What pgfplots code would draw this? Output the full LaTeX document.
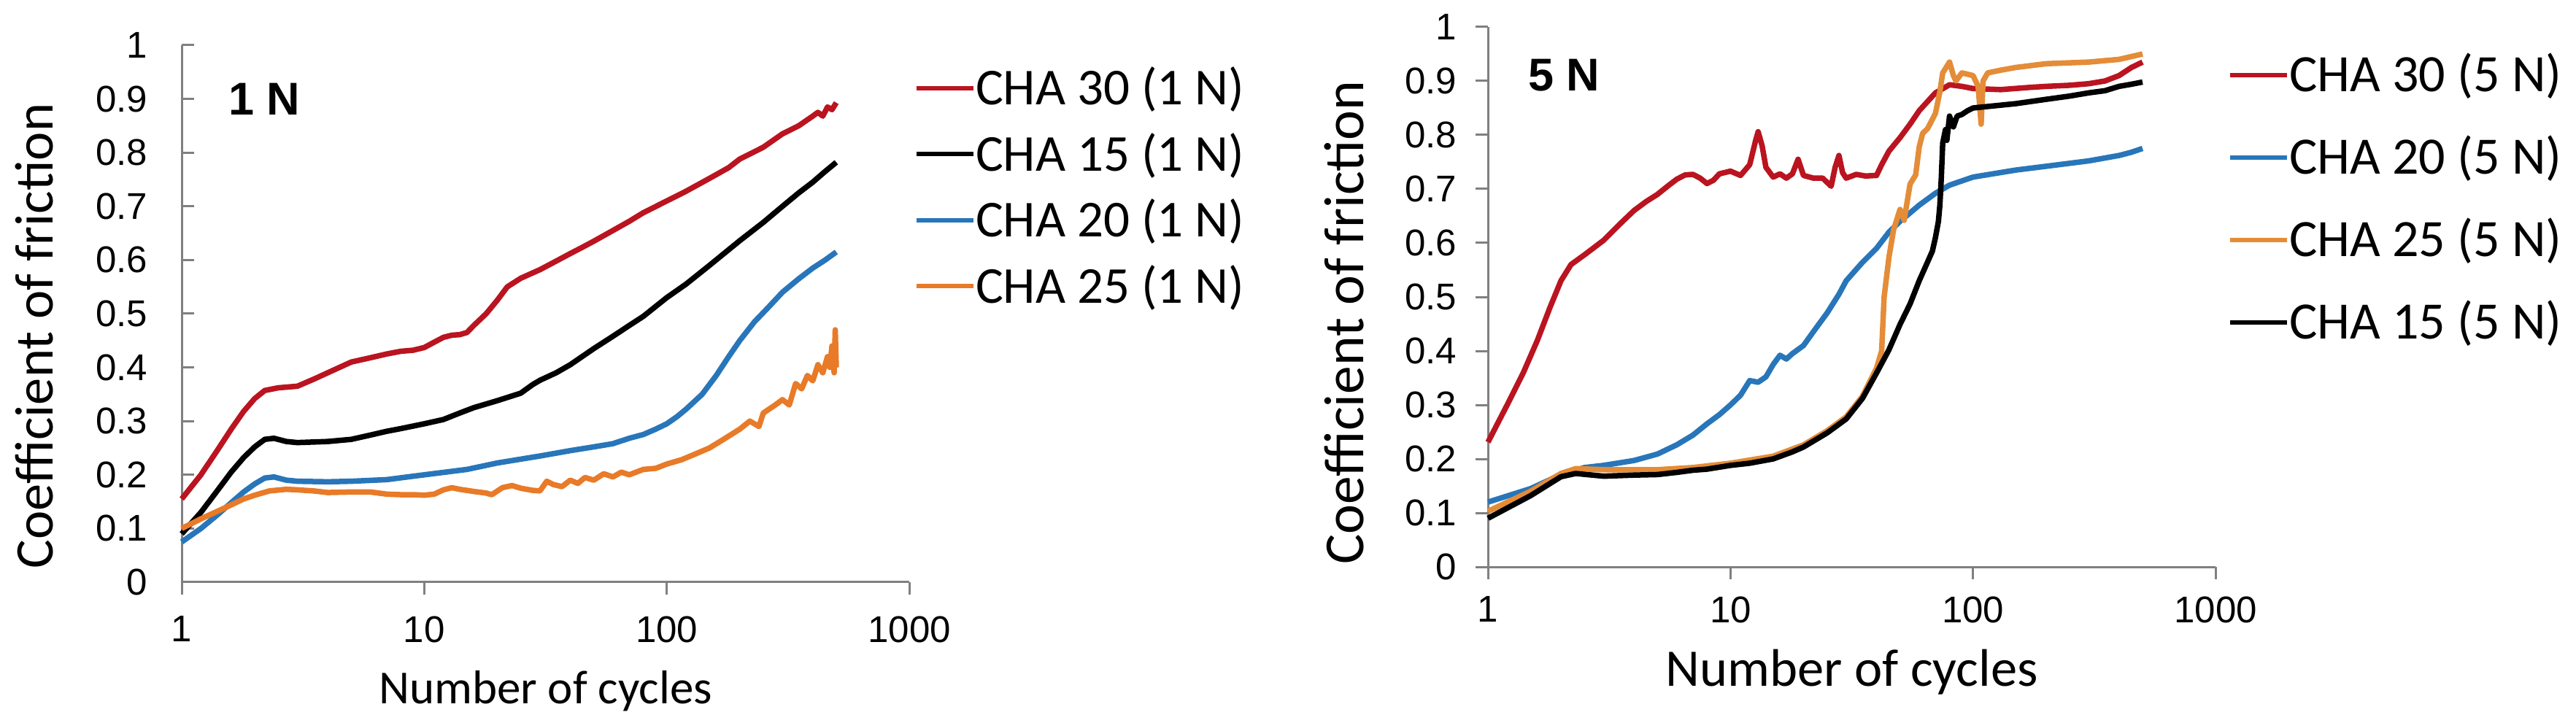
\documentclass[border=0pt]{standalone}
\usepackage{pgfplots}
\pgfplotsset{compat=1.18}
\usepackage{fontspec}
\setmainfont{Carlito}
\newfontfamily\arial{Liberation Sans}
\definecolor{cred}{RGB}{186,20,32}
\definecolor{cblue}{RGB}{40,118,185}
\definecolor{corangeA}{RGB}{232,122,40}
\definecolor{corangeB}{RGB}{228,140,55}
\pgfplotsset{
  myax/.style={
    scale only axis, width=199.4pt,
    xmin=1, xmax=1000, ymin=0, ymax=1,
    axis x line*=bottom, axis y line*=left,
    axis line style={gray, line width=0.6pt},
    xtick={1,10,100,1000}, xticklabels={1,10,100,1000},
    ytick={0,0.1,0.2,0.3,0.4,0.5,0.6,0.7,0.8,0.9,1},
    yticklabels={0,0.1,0.2,0.3,0.4,0.5,0.6,0.7,0.8,0.9,1},
    xminorticks=false, yminorticks=false,
    tick align=outside, major tick length=3.4pt,
    tick style={gray, line width=0.6pt},
    tick label style={font=\arial\fontsize{10.2}{12}\selectfont},
    /pgf/number format/assume math mode=true,
    clip=false,
    legend cell align=left,
    legend image code/.code={\draw[##1, line width=1.2pt] (0pt,0pt) -- (15.6pt,0pt);},
    every axis plot/.append style={line width=1.5pt, line join=round},
  }
}
\begin{document}
\begin{tikzpicture}
\useasboundingbox (0,0) rectangle (706pt,198pt);
% ---------------- left panel: 1 N ----------------
\begin{semilogxaxis}[myax,
  at={(49.8pt,38.4pt)}, anchor=south west, height=147.2pt,
  y tick style={xshift=3.4pt},
  yticklabel style={inner sep=0pt, anchor=east, xshift=-5.8pt},
  xticklabel style={inner sep=0pt, anchor=north, yshift=-5.7pt},
  every axis y label/.style={at={(axis description cs:-0.1775,0.4586)}, rotate=90, anchor=base, font=\fontsize{14.9}{16}\selectfont},
  every axis x label/.style={at={(axis description cs:0.5,-0.2269)}, anchor=base, font=\fontsize{13}{15}\selectfont},
  ylabel={Coefficient of friction}, xlabel={Number of cycles},
  legend style={draw=none, fill=none, inner sep=0pt, at={(1.006,0.9524)}, anchor=north west,
    row sep=9pt, font=\fontsize{14.2}{14.2}\selectfont,
    nodes={inner sep=0pt, text height=9.1pt, text depth=0pt},
    /tikz/every even column/.append style={column sep=1.6pt}},
]
\addplot[cred] coordinates {(1,0.155)(1.2,0.2)(1.4,0.245)(1.6,0.285)(1.8,0.318)(2,0.342)(2.2,0.357)(2.5,0.362)(3,0.365)(3.5,0.378)(4,0.39)(5,0.41)(6,0.418)(7,0.425)(8,0.43)(9,0.432)(10,0.437)(11,0.447)(12,0.456)(13,0.46)(14,0.461)(15,0.465)(16,0.478)(18,0.5)(20,0.525)(22,0.55)(25,0.566)(28,0.576)(30,0.582)(35,0.598)(40,0.612)(45,0.624)(50,0.635)(60,0.655)(70,0.672)(80,0.688)(100,0.71)(120,0.728)(150,0.752)(180,0.772)(200,0.788)(250,0.81)(300,0.835)(350,0.85)(400,0.868)(420,0.875)(440,0.868)(460,0.885)(480,0.88)(500,0.893)};
\addlegendentry{CHA 30 (1 N)}
\addplot[black] coordinates {(1,0.09)(1.2,0.13)(1.4,0.17)(1.6,0.205)(1.8,0.232)(2,0.252)(2.2,0.266)(2.4,0.268)(2.7,0.262)(3,0.26)(4,0.262)(5,0.266)(6,0.274)(7,0.281)(8,0.286)(10,0.295)(12,0.303)(14,0.315)(16,0.325)(20,0.338)(25,0.352)(28,0.368)(30,0.376)(35,0.39)(40,0.405)(50,0.435)(60,0.458)(70,0.478)(80,0.495)(100,0.53)(120,0.555)(150,0.59)(200,0.636)(250,0.67)(300,0.7)(350,0.725)(400,0.745)(450,0.765)(500,0.782)};
\addlegendentry{CHA 15 (1 N)}
\addplot[cblue] coordinates {(1,0.075)(1.2,0.1)(1.4,0.125)(1.6,0.148)(1.8,0.168)(2,0.183)(2.2,0.194)(2.4,0.196)(2.7,0.19)(3,0.188)(4,0.187)(5,0.188)(7,0.191)(10,0.2)(15,0.21)(20,0.222)(30,0.235)(40,0.245)(50,0.252)(60,0.258)(70,0.268)(80,0.275)(90,0.285)(100,0.295)(110,0.308)(120,0.322)(140,0.35)(160,0.385)(180,0.42)(200,0.45)(230,0.485)(260,0.51)(300,0.54)(350,0.565)(400,0.585)(450,0.6)(500,0.615)};
\addlegendentry{CHA 20 (1 N)}
\addplot[corangeA] coordinates {(1,0.1)(1.2,0.118)(1.5,0.138)(1.8,0.155)(2,0.162)(2.3,0.17)(2.7,0.173)(3,0.172)(3.5,0.17)(4,0.167)(5,0.168)(6,0.168)(7,0.164)(8,0.163)(9,0.163)(10,0.162)(11,0.164)(12,0.172)(13,0.176)(14,0.173)(16,0.169)(18,0.166)(19,0.163)(21,0.176)(23,0.18)(25,0.175)(28,0.171)(30,0.17)(32,0.188)(34,0.182)(37,0.178)(40,0.19)(43,0.184)(46,0.195)(50,0.19)(55,0.202)(60,0.196)(65,0.205)(70,0.2)(80,0.21)(90,0.212)(100,0.22)(115,0.228)(130,0.238)(150,0.25)(170,0.265)(200,0.285)(220,0.3)(240,0.29)(250,0.315)(280,0.33)(300,0.34)(320,0.33)(340,0.37)(360,0.36)(380,0.385)(400,0.375)(420,0.405)(440,0.39)(460,0.42)(470,0.4)(480,0.44)(490,0.39)(495,0.47)(500,0.4)};
\addlegendentry{CHA 25 (1 N)}
\node[anchor=base west, inner sep=0pt, font=\arial\bfseries\fontsize{12.6}{14}\selectfont] at (rel axis cs:0.0632,0.8696) {1 N};
\end{semilogxaxis}
% ---------------- right panel: 5 N ----------------
\begin{semilogxaxis}[myax,
  at={(407.8pt,42.6pt)}, anchor=south west, height=148pt,
  yticklabel style={inner sep=0pt, anchor=east, xshift=-5.0pt},
  xticklabel style={inner sep=0pt, anchor=north, yshift=-4.5pt},
  every axis y label/.style={at={(axis description cs:-0.1715,0.4527)}, rotate=90, anchor=base, font=\fontsize{15.5}{17}\selectfont},
  every axis x label/.style={at={(axis description cs:0.5,-0.2203)}, anchor=base, font=\fontsize{14.5}{16}\selectfont},
  ylabel={Coefficient of friction}, xlabel={Number of cycles},
  legend style={draw=none, fill=none, inner sep=0pt, at={(1.016,0.944)}, anchor=north west,
    row sep=13.3pt, font=\fontsize{14.4}{14.4}\selectfont,
    nodes={inner sep=0pt, text height=9.3pt, text depth=0pt},
    /tikz/every even column/.append style={column sep=1.6pt}},
]
\addplot[cred] coordinates {(1,0.231)(1.2,0.3)(1.4,0.36)(1.6,0.42)(1.8,0.48)(2,0.53)(2.2,0.56)(2.5,0.578)(3,0.605)(3.5,0.635)(4,0.66)(4.5,0.677)(5,0.69)(5.5,0.705)(6,0.718)(6.5,0.726)(7,0.727)(7.5,0.72)(8,0.71)(8.5,0.716)(9,0.728)(10,0.733)(11,0.725)(12,0.745)(12.7,0.79)(13,0.806)(13.5,0.78)(14,0.74)(15,0.722)(16,0.728)(17,0.72)(18,0.728)(19,0.755)(20,0.725)(22,0.72)(24,0.72)(26,0.705)(27,0.74)(28,0.762)(29,0.73)(30,0.72)(33,0.727)(36,0.724)(40,0.725)(42,0.745)(45,0.77)(50,0.795)(55,0.82)(60,0.845)(70,0.878)(80,0.893)(90,0.89)(100,0.886)(130,0.884)(170,0.888)(200,0.89)(250,0.892)(300,0.895)(350,0.9)(400,0.91)(450,0.925)(500,0.935)};
\addlegendentry{CHA 30 (5 N)}
\addplot[cblue] coordinates {(1,0.12)(1.5,0.145)(2,0.171)(2.5,0.184)(3,0.188)(4,0.197)(5,0.209)(6,0.226)(7,0.244)(8,0.265)(9,0.282)(10,0.3)(11,0.318)(12,0.345)(13,0.342)(14,0.352)(15,0.375)(16,0.392)(17,0.385)(18,0.395)(20,0.41)(22,0.436)(25,0.47)(28,0.505)(30,0.53)(35,0.564)(40,0.59)(45,0.62)(50,0.64)(60,0.67)(70,0.692)(80,0.707)(100,0.722)(150,0.735)(200,0.742)(300,0.752)(400,0.762)(450,0.768)(500,0.775)};
\addlegendentry{CHA 20 (5 N)}
\addplot[corangeB] coordinates {(1,0.103)(1.5,0.14)(2,0.173)(2.3,0.182)(3,0.18)(5,0.18)(7,0.184)(10,0.192)(15,0.205)(20,0.226)(25,0.252)(30,0.278)(35,0.316)(40,0.368)(42,0.4)(43,0.5)(45,0.573)(47,0.624)(50,0.662)(52,0.642)(55,0.709)(58,0.726)(60,0.778)(62,0.803)(65,0.812)(70,0.84)(73,0.88)(75,0.915)(80,0.935)(83,0.91)(85,0.9)(90,0.915)(100,0.91)(105,0.89)(108,0.82)(110,0.9)(115,0.915)(130,0.92)(150,0.925)(200,0.932)(300,0.935)(400,0.94)(500,0.95)};
\addlegendentry{CHA 25 (5 N)}
\addplot[black] coordinates {(1,0.09)(1.5,0.132)(2,0.167)(2.3,0.173)(3,0.168)(4,0.17)(5,0.171)(6,0.175)(7,0.179)(8,0.181)(10,0.188)(12,0.192)(15,0.2)(18,0.213)(20,0.222)(25,0.248)(30,0.274)(35,0.312)(40,0.359)(45,0.402)(50,0.449)(55,0.487)(60,0.53)(65,0.565)(68,0.585)(70,0.61)(72,0.64)(73,0.67)(74,0.72)(75,0.785)(77,0.81)(78,0.79)(80,0.835)(83,0.815)(86,0.835)(90,0.838)(95,0.845)(100,0.85)(150,0.858)(200,0.866)(250,0.872)(300,0.878)(350,0.882)(400,0.89)(450,0.894)(500,0.898)};
\addlegendentry{CHA 15 (5 N)}
\node[anchor=base west, inner sep=0pt, font=\arial\bfseries\fontsize{12.6}{14}\selectfont] at (rel axis cs:0.0542,0.8824) {5 N};
\end{semilogxaxis}
\end{tikzpicture}
\end{document}
